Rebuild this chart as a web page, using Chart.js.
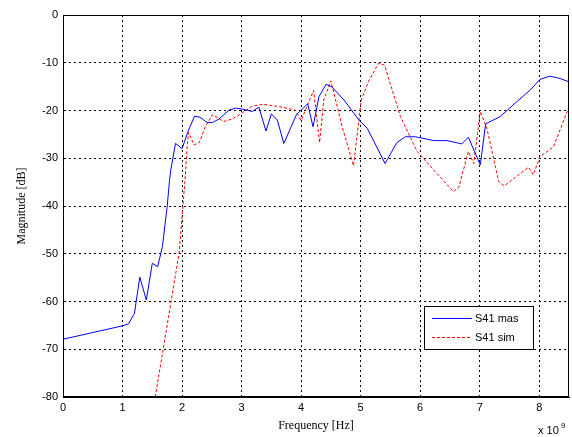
<!DOCTYPE html>
<html>
<head>
<meta charset="utf-8">
<script src="https://cdn.jsdelivr.net/npm/chart.js@4/dist/chart.umd.min.js"></script>
<style>
  html, body { margin: 0; padding: 0; background: #fff; }
  #wrap { width: 572px; height: 437px; position: relative; }
</style>
</head>
<body>
<div id="wrap"><canvas id="chart"></canvas></div>
<script>
// frequency in units of 1e9 Hz, magnitude in dB
var masFreq = [0, 1.0, 1.1, 1.2, 1.29, 1.4, 1.5, 1.59, 1.67, 1.75, 1.79, 1.81, 1.89, 2.0, 2.1, 2.21, 2.3, 2.42, 2.51, 2.62, 2.79, 2.9, 3.01, 3.18, 3.29, 3.41, 3.5, 3.6, 3.71, 3.92, 4.11, 4.2, 4.3, 4.42, 4.52, 4.72, 4.97, 5.11, 5.41, 5.61, 5.75, 5.92, 6.23, 6.45, 6.7, 6.81, 7.01, 7.1, 7.34, 7.62, 7.85, 8.01, 8.18, 8.35, 8.5];
var masDb = [-67.9, -65.1, -64.7, -62.5, -54.9, -59.7, -52, -52.7, -48.5, -40.1, -34.6, -32.5, -26.9, -28, -24.4, -21.2, -21.4, -22.5, -22.5, -21.8, -19.9, -19.5, -19.7, -20.2, -19.3, -24.3, -20.7, -22, -26.9, -20.9, -18.6, -23.4, -17.1, -14.5, -15.1, -17.8, -22, -23.7, -31.1, -26.7, -25.5, -25.5, -26.3, -26.3, -27.0, -25.6, -31.4, -22.8, -21.3, -18.2, -15.7, -13.5, -12.8, -13.3, -14.0];

var simFreq = [1.55, 1.81, 1.95, 2.05, 2.09, 2.11, 2.2, 2.29, 2.39, 2.51, 2.7, 2.84, 2.96, 3.18, 3.37, 3.68, 3.9, 4.0, 4.13, 4.21, 4.31, 4.38, 4.5, 4.69, 4.88, 5.01, 5.13, 5.3, 5.4, 5.67, 5.95, 6.23, 6.56, 6.65, 6.81, 6.9, 7.01, 7.12, 7.32, 7.41, 7.82, 7.9, 8.01, 8.24, 8.5];
var simDb = [-80, -60.4, -49.9, -34.6, -26.9, -24.6, -27.2, -26.7, -23.4, -20.9, -22.3, -21.8, -20.9, -19.1, -18.7, -19.3, -19.9, -22.1, -18.2, -15.8, -26.7, -17.8, -13.8, -23.4, -31.6, -17.8, -14.0, -10.1, -10.5, -21.3, -28.6, -32.5, -37.0, -36.0, -28.6, -31.1, -20.2, -23.7, -34.9, -35.8, -31.9, -33.5, -29.7, -27.6, -19.2];

var seriesNames = ['S41 mas', 'S41 sim'];
var xTicks = [0, 1, 2, 3, 4, 5, 6, 7, 8];

function toPoints(xs, ys) {
  var pts = [];
  for (var i = 0; i < xs.length; i++) pts.push({ x: xs[i], y: ys[i] });
  return pts;
}

// frame, legend box and exponent label like matlab
const extras = {
  id: 'extras',
  afterDatasetsDraw(chart) {
    const ctx = chart.ctx;
    const a = chart.chartArea;
    ctx.save();
    ctx.strokeStyle = '#000';
    ctx.lineWidth = 1;
    ctx.setLineDash([]);
    ctx.strokeRect(a.left + 0.5, a.top + 0.5, a.right - a.left - 1, a.bottom - a.top - 1);

    // legend
    var lx = 424, ly = 306, lw = 109, lh = 43;
    ctx.fillStyle = '#fff';
    ctx.fillRect(lx, ly, lw, lh);
    ctx.strokeRect(lx + 0.5, ly + 0.5, lw, lh);
    var colors = ['#0000ff', '#ff0000'];
    var dashes = [[], [3, 2]];
    ctx.font = '11px "Liberation Sans", Arial, sans-serif';
    ctx.textBaseline = 'middle';
    for (var i = 0; i < 2; i++) {
      var yy = ly + 12.5 + i * 19;
      ctx.strokeStyle = colors[i];
      ctx.setLineDash(dashes[i]);
      ctx.beginPath();
      ctx.moveTo(432, yy);
      ctx.lineTo(472, yy);
      ctx.stroke();
      ctx.fillStyle = '#000';
      ctx.fillText(seriesNames[i], 475, yy);
    }
    ctx.setLineDash([]);

    // x 10^9
    ctx.fillStyle = '#000';
    ctx.font = '11px "Liberation Sans", Arial, sans-serif';
    ctx.textBaseline = 'alphabetic';
    ctx.fillText('x 10', 538, 434);
    ctx.font = '8px "Liberation Sans", Arial, sans-serif';
    ctx.fillText('9', 561, 428);
    ctx.restore();
  }
};

new Chart(document.getElementById('chart'), {
  type: 'line',
  data: {
    datasets: [{
      label: seriesNames[0],
      data: toPoints(masFreq, masDb),
      borderColor: '#0000ff',
      borderWidth: 1,
      pointRadius: 0,
      tension: 0
    }, {
      label: seriesNames[1],
      data: toPoints(simFreq, simDb),
      borderColor: '#ff0000',
      borderWidth: 1,
      borderDash: [3, 2],
      pointRadius: 0,
      tension: 0
    }]
  },
  options: {
    responsive: true,
    maintainAspectRatio: false,
    animation: false,
    layout: { padding: { top: 15, right: 3, left: 0, bottom: 0 } },
    plugins: { legend: { display: false }, tooltip: { enabled: false } },
    scales: {
      x: {
        type: 'linear',
        min: 0,
        max: 8.5,
        afterBuildTicks: function(scale) {
          scale.ticks = xTicks.map(function(v) { return { value: v }; });
        },
        afterFit: function(scale) { scale.height = 40; },
        ticks: {
          color: '#000',
          font: { family: '"Liberation Sans", Arial, sans-serif', size: 11 },
          padding: 4,
          maxRotation: 0
        },
        grid: { color: '#000', lineWidth: 1, drawTicks: false },
        border: { display: true, color: '#000', dash: [2, 3] },
        title: {
          display: true,
          text: 'Frequency [Hz]',
          color: '#000',
          font: { family: '"Liberation Serif", "Times New Roman", serif', size: 12 },
          padding: { top: 1 }
        }
      },
      y: {
        min: -80,
        max: 0,
        afterFit: function(scale) { scale.width = 63; },
        ticks: {
          stepSize: 10,
          color: '#000',
          font: { family: '"Liberation Sans", Arial, sans-serif', size: 11 },
          padding: 5
        },
        grid: { color: '#000', lineWidth: 1, drawTicks: false },
        border: { display: true, color: '#000', dash: [2, 3] },
        title: {
          display: true,
          text: 'Magnitude [dB]',
          color: '#000',
          font: { family: '"Liberation Serif", "Times New Roman", serif', size: 12 },
          padding: { top: 15, bottom: 0 }
        }
      }
    }
  },
  plugins: [extras]
});
</script>
</body>
</html>
